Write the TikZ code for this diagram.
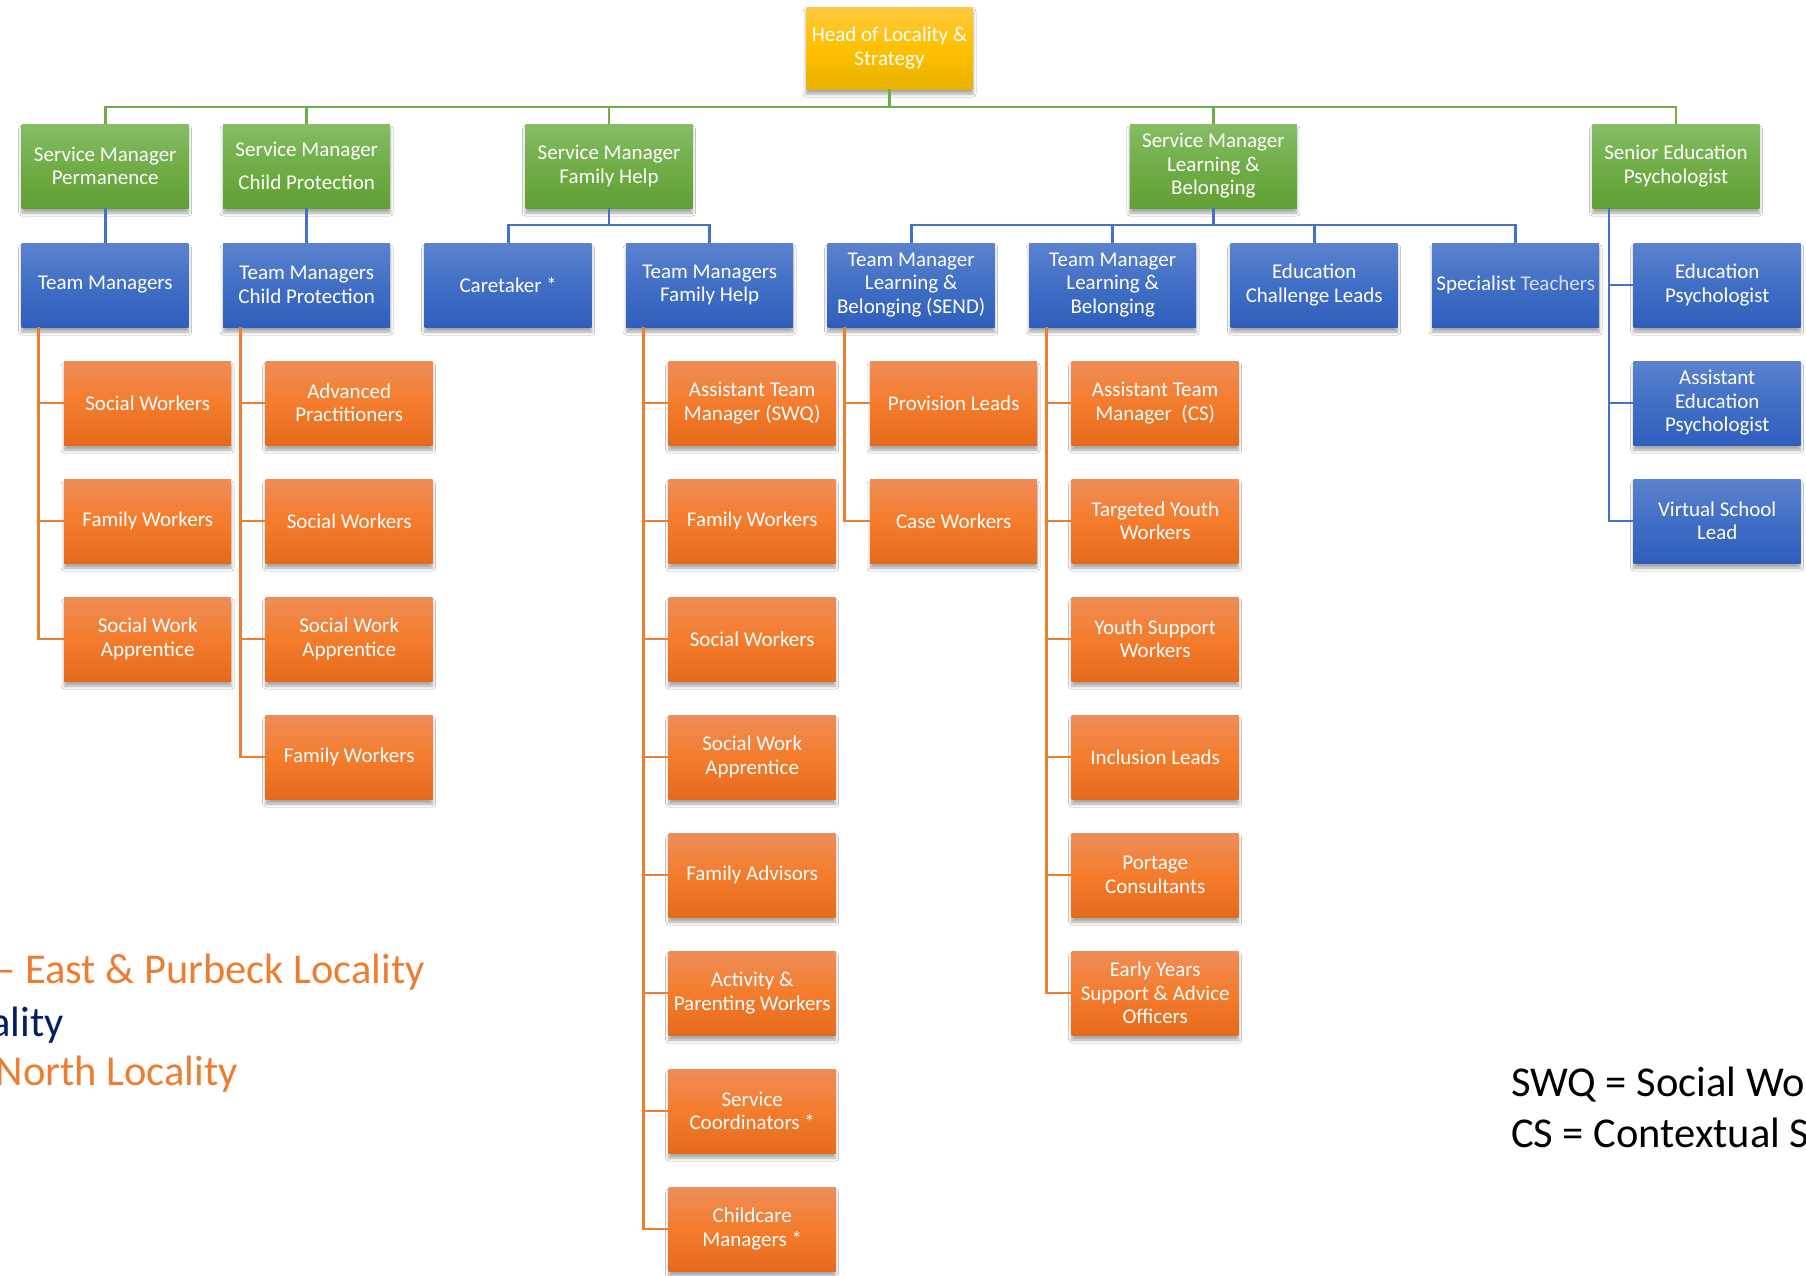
\documentclass[tikz,border=0pt]{standalone}
\usepackage{fontspec}
\setmainfont{Carlito}
\usetikzlibrary{shadows.blur}
\definecolor{gline}{HTML}{70AD47}
\definecolor{bline}{HTML}{4472C4}
\definecolor{oline}{HTML}{ED7D31}
\definecolor{gtop}{HTML}{86BD66}
\definecolor{gmid}{HTML}{70AD47}
\definecolor{gbot}{HTML}{61A034}
\definecolor{btop}{HTML}{5B82CD}
\definecolor{bmid}{HTML}{416FC6}
\definecolor{bbot}{HTML}{2F5EBD}
\definecolor{otop}{HTML}{EF8D58}
\definecolor{omid}{HTML}{F47C2C}
\definecolor{obot}{HTML}{E46B1C}
\definecolor{ytop}{HTML}{FFC940}
\definecolor{ymid}{HTML}{FFC000}
\definecolor{ybot}{HTML}{E8B200}
\definecolor{tlight}{HTML}{D6DEEE}
\definecolor{navy}{HTML}{002060}
\tikzset{
  box/.style={rectangle, minimum width=167pt, minimum height=84pt, inner sep=1pt,
    align=center, text=white, font=\fontsize{21}{23.5}\selectfont,
    blur shadow={shadow xshift=0pt, shadow yshift=-5pt, shadow blur radius=3pt, shadow blur steps=5, shadow opacity=35}},
  headbox/.style={box, minimum height=82pt, top color=ytop, bottom color=ybot, middle color=ymid},
  gbox/.style={box, top color=gtop, bottom color=gbot, middle color=gmid},
  bbox/.style={box, top color=btop, bottom color=bbot, middle color=bmid},
  obox/.style={box, top color=otop, bottom color=obot, middle color=omid},
  gl/.style={draw=gline, line width=2.6pt},
  bl/.style={draw=bline, line width=2.6pt},
  ol/.style={draw=oline, line width=2.6pt},
  legend/.style={inner sep=0pt, font=\fontsize{42.5}{48}\selectfont}
}
\begin{document}
\begin{tikzpicture}[x=1pt, y=-1pt]
\useasboundingbox (0,0) rectangle (1806,1275);
\fill[white] (0,0) rectangle (1806,1275);

% head
\node[headbox] (head) at (889.5,48) {Head of Locality \&\\Strategy};

% service managers
\node[gbox] (smp) at (105.2,166) {Service Manager\\Permanence};
\node[gbox] (smcp) at (306.7,166) {Service Manager\\[9pt]Child Protection};
\node[gbox] (smfh) at (609,166) {Service Manager\\Family Help};
\node[gbox] (smlb) at (1213.4,166) {Service Manager\\Learning \&\\Belonging};
\node[gbox] (sep) at (1676,166) {Senior Education\\Psychologist};

% team managers row
\node[bbox] (tm) at (105.2,285) {Team Managers};
\node[bbox] (tmcp) at (306.7,285) {Team Managers\\Child Protection};
\node[bbox] (care) at (508.2,285) {Caretaker *};
\node[bbox] (tmfh) at (709.7,285) {Team Managers\\Family Help};
\node[bbox] (tmls) at (911.2,285) {Team Manager\\Learning \&\\Belonging (SEND)};
\node[bbox] (tmlb) at (1112.7,285) {Team Manager\\Learning \&\\Belonging};
\node[bbox] (ecl) at (1314.2,285) {Education\\Challenge Leads};
\node[bbox] (spt) at (1515.7,285) {Specialist {\color{tlight}Teachers}};
\node[bbox] (ep) at (1717.2,285) {Education\\Psychologist};
\node[bbox] (aep) at (1717.2,403) {Assistant\\Education\\Psychologist};
\node[bbox] (vsl) at (1717.2,521) {Virtual School\\Lead};

% Team Managers children
\node[obox] (a1) at (147.7,403) {Social Workers};
\node[obox] (a2) at (147.7,521) {Family Workers};
\node[obox] (a3) at (147.7,639) {Social Work\\Apprentice};

% TM Child Protection children
\node[obox] (b1) at (349.2,403) {Advanced\\Practitioners};
\node[obox] (b2) at (349.2,521) {Social Workers};
\node[obox] (b3) at (349.2,639) {Social Work\\Apprentice};
\node[obox] (b4) at (349.2,757) {Family Workers};

% TM Family Help children
\node[obox] (c1) at (752.2,403) {Assistant Team\\Manager (SWQ)};
\node[obox] (c2) at (752.2,521) {Family Workers};
\node[obox] (c3) at (752.2,639) {Social Workers};
\node[obox] (c4) at (752.2,757) {Social Work\\Apprentice};
\node[obox] (c5) at (752.2,875) {Family Advisors};
\node[obox] (c6) at (752.2,993) {Activity \&\\Parenting Workers};
\node[obox] (c7) at (752.2,1111) {Service\\Coordinators *};
\node[obox] (c8) at (752.2,1229) {Childcare\\Managers *};

% TM L&B SEND children
\node[obox] (d1) at (953.7,403) {Provision Leads};
\node[obox] (d2) at (953.7,521) {Case Workers};

% TM L&B children
\node[obox] (e1) at (1155.2,403) {Assistant Team\\Manager\ \ (CS)};
\node[obox] (e2) at (1155.2,521) {Targeted Youth\\Workers};
\node[obox] (e3) at (1155.2,639) {Youth Support\\Workers};
\node[obox] (e4) at (1155.2,757) {Inclusion Leads};
\node[obox] (e5) at (1155.2,875) {Portage\\Consultants};
\node[obox] (e6) at (1155.2,993) {Early Years\\Support \& Advice\\Officers};

% green connectors
\coordinate (hb) at (889.5,107);
\foreach \n in {smp,smcp,smfh,smlb,sep} \draw[gl] (head.south) -- (hb) -| (\n.north);

% blue connectors
\draw[bl] (smp.south) -- (tm.north);
\draw[bl] (smcp.south) -- (tmcp.north);
\coordinate (fhb) at (609,225);
\foreach \n in {care,tmfh} \draw[bl] (smfh.south) -- (fhb) -| (\n.north);
\coordinate (lbb) at (1213.4,225);
\foreach \n in {tmls,tmlb,ecl,spt} \draw[bl] (smlb.south) -- (lbb) -| (\n.north);
\coordinate (sepx) at (1609,208);
\foreach \n in {ep,aep,vsl} \draw[bl] (sepx) |- (\n.west);

% orange connectors
\coordinate (tmx) at (38.7,327);
\foreach \n in {a1,a2,a3} \draw[ol] (tmx) |- (\n.west);
\coordinate (tmcpx) at (240.2,327);
\foreach \n in {b1,b2,b3,b4} \draw[ol] (tmcpx) |- (\n.west);
\coordinate (tmfhx) at (643.2,327);
\foreach \n in {c1,c2,c3,c4,c5,c6,c7,c8} \draw[ol] (tmfhx) |- (\n.west);
\coordinate (tmlsx) at (844.7,327);
\foreach \n in {d1,d2} \draw[ol] (tmlsx) |- (\n.west);
\coordinate (tmlbx) at (1046.2,327);
\foreach \n in {e1,e2,e3,e4,e5,e6} \draw[ol] (tmlbx) |- (\n.west);

% legend texts
\node[legend, text=oline, anchor=base east] (l1) at (425,983) {– East \& Purbeck Locality};
\node[legend, text=navy, anchor=base east] (l2) at (64,1036) {ality};
\node[legend, text=oline, anchor=base east] (l3) at (238,1085) {North Locality};
\node[legend, text=black, anchor=base west] (k1) at (1511,1096) {SWQ = Social Wo};
\node[legend, text=black, anchor=base west] (k2) at (1511,1147) {CS = Contextual S};
\end{tikzpicture}
\end{document}
